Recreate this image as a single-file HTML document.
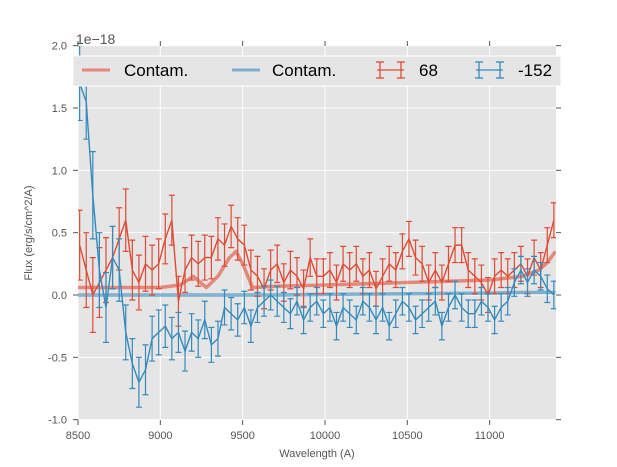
<!DOCTYPE html>
<html><head><meta charset="utf-8"><style>
body{margin:0;background:#fff;font-family:"Liberation Sans",sans-serif}
svg{display:block}
</style></head><body>
<svg id="chart" width="617" height="467">
<rect x="78" y="46" width="478" height="374" fill="#e5e5e5"/>
<g id="grid"></g><g id="axes"></g><g id="series"></g>
<text x="76" y="44" font-size="14" fill="#555">1e−18</text>
<text x="317" y="457" font-size="11" fill="#555" text-anchor="middle">Wavelength (A)</text>
<text transform="translate(32,233) rotate(-90)" font-size="11" fill="#555" text-anchor="middle">Flux (erg/s/cm^2/A)</text>
<g>
<rect x="73" y="56" width="488" height="30" fill="#e5e5e5" stroke="#fff" stroke-width="1"/>
<line x1="82" y1="70" x2="110" y2="70" stroke="#E24A33" stroke-opacity="0.6" stroke-width="3"/>
<text x="124" y="76" font-size="17">Contam.</text>
<line x1="232" y1="70" x2="260" y2="70" stroke="#348ABD" stroke-opacity="0.6" stroke-width="3"/>
<text x="272" y="76" font-size="17">Contam.</text>
<g stroke="#E24A33" stroke-width="1.3"><line x1="377" y1="70" x2="404" y2="70"/><line x1="380" y1="62" x2="380" y2="78"/><line x1="401" y1="62" x2="401" y2="78"/><line x1="376" y1="62" x2="384" y2="62"/><line x1="376" y1="78" x2="384" y2="78"/><line x1="397" y1="62" x2="405" y2="62"/><line x1="397" y1="78" x2="405" y2="78"/></g>
<text x="419" y="76" font-size="17">68</text>
<g stroke="#348ABD" stroke-width="1.3"><line x1="476" y1="70" x2="503" y2="70"/><line x1="479" y1="62" x2="479" y2="78"/><line x1="500" y1="62" x2="500" y2="78"/><line x1="475" y1="62" x2="483" y2="62"/><line x1="475" y1="78" x2="483" y2="78"/><line x1="496" y1="62" x2="504" y2="62"/><line x1="496" y1="78" x2="504" y2="78"/></g>
<text x="518" y="76" font-size="17">-152</text>
</g>
</svg>
<script>
const xTicks=[8500,9000,9500,10000,10500,11000];
const yTicks=[-1.0,-0.5,0.0,0.5,1.0,1.5,2.0];
const wlStart=8510, wlStep=40;
const red68=[0.4,0.2,0.0,0.1,0.2,0.3,0.45,0.6,0.2,0.1,0.25,0.2,0.25,0.45,0.6,-0.05,0.2,0.3,0.25,0.3,0.3,0.45,0.4,0.55,0.45,0.4,0.2,0.15,0.05,0.2,0.25,0.1,0.2,0.15,0.05,0.3,0.15,0.15,0.2,0.1,0.25,0.2,0.25,0.15,0.2,0.05,0.15,0.25,0.2,0.35,0.45,0.3,0.25,0.1,0.2,0.1,0.25,0.4,0.4,0.2,0.15,0.1,0.0,0.15,0.2,0.15,0.2,0.25,0.15,0.3,0.2,0.4,0.6];
const red68Err=[0.28,0.3,0.3,0.28,0.26,0.25,0.25,0.25,0.24,0.22,0.22,0.2,0.2,0.2,0.2,0.2,0.18,0.18,0.18,0.18,0.17,0.17,0.17,0.17,0.17,0.16,0.16,0.16,0.16,0.16,0.15,0.15,0.15,0.15,0.15,0.15,0.14,0.14,0.14,0.14,0.14,0.14,0.14,0.14,0.14,0.14,0.14,0.14,0.14,0.14,0.14,0.14,0.14,0.14,0.14,0.14,0.14,0.14,0.14,0.14,0.14,0.14,0.14,0.14,0.14,0.14,0.14,0.14,0.14,0.14,0.14,0.14,0.14];
const blue152=[1.7,1.55,0.8,0.2,-0.1,0.3,0.2,-0.3,-0.55,-0.7,-0.6,-0.35,-0.3,-0.25,-0.35,-0.3,-0.45,-0.3,-0.35,-0.2,-0.4,-0.35,-0.1,-0.15,-0.2,-0.1,-0.25,-0.1,-0.05,0.0,-0.05,-0.1,-0.15,-0.05,-0.2,-0.1,-0.05,-0.15,-0.1,-0.25,-0.1,-0.15,-0.2,-0.05,-0.1,-0.2,-0.1,-0.25,-0.15,-0.05,-0.1,-0.2,-0.15,-0.1,-0.05,-0.25,-0.1,0.0,-0.1,-0.15,-0.15,-0.05,-0.1,-0.2,-0.1,-0.05,0.1,0.2,0.1,0.2,0.15,0.05,0.0];
const blue152Err=[0.3,0.3,0.35,0.3,0.28,0.25,0.25,0.22,0.2,0.2,0.2,0.18,0.18,0.17,0.17,0.16,0.16,0.15,0.15,0.15,0.14,0.14,0.14,0.13,0.13,0.13,0.13,0.12,0.12,0.12,0.12,0.12,0.12,0.11,0.11,0.11,0.11,0.11,0.11,0.11,0.11,0.11,0.11,0.11,0.11,0.11,0.11,0.11,0.11,0.11,0.11,0.11,0.11,0.11,0.11,0.11,0.11,0.11,0.11,0.11,0.11,0.11,0.11,0.11,0.11,0.11,0.11,0.11,0.11,0.11,0.11,0.11,0.11];
const contamWl=[8500,9000,9120,9200,9280,9350,9420,9460,9500,9560,9700,10000,10500,11000,11200,11300,11350,11400];
const contamRed=[0.06,0.06,0.08,0.15,0.06,0.15,0.3,0.35,0.25,0.06,0.07,0.08,0.1,0.12,0.15,0.2,0.26,0.35];
const contamBlue=[0.0,0.0,0.0,0.0,0.0,0.0,0.0,0.0,0.0,0.0,0.0,0.005,0.01,0.015,0.02,0.02,0.02,0.02];
const X=v=>78+(v-8500)*478/2903, Y=v=>295-v*124.67;
const NS='http://www.w3.org/2000/svg';
function mk(p,t,a){const e=document.createElementNS(NS,t);for(const k in a)e.setAttribute(k,a[k]);p.appendChild(e);return e;}
const grid=document.getElementById('grid'),axes=document.getElementById('axes'),ser=document.getElementById('series');
xTicks.forEach(t=>{const x=X(t);
const g=mk(grid,'line',{x1:x,x2:x,y1:46,y2:420,stroke:'#fff','stroke-width':1});


mk(axes,'line',{x1:x,x2:x,y1:420,y2:425,stroke:'#555'});mk(axes,'line',{x1:x,x2:x,y1:46,y2:41,stroke:'#555'});
const l=mk(axes,'text',{x:x,y:439,'font-size':11,fill:'#555','text-anchor':'middle'});l.textContent=t;

});
yTicks.forEach(t=>{const y=Y(t);
const g=mk(grid,'line',{x1:78,x2:556,y1:y,y2:y,stroke:'#fff','stroke-width':1});


mk(axes,'line',{x1:73,x2:78,y1:y,y2:y,stroke:'#555'});mk(axes,'line',{x1:556,x2:561,y1:y,y2:y,stroke:'#555'});
const l=mk(axes,'text',{x:67,y:y+4,'font-size':11,fill:'#555','text-anchor':'end'});l.textContent=t.toFixed(1);

});
function contam(vals,col,name){let d='';contamWl.forEach((w,i)=>{d+=(i?'L':'M')+X(w)+','+Y(vals[i]);});
const p=mk(ser,'path',{d:d,fill:'none',stroke:col,'stroke-opacity':0.6,'stroke-width':3.5,'stroke-linejoin':'round'});

}
function errs(vals,err,col,name){const g=mk(ser,'g',{stroke:col,'stroke-width':1.2,fill:'none'});


let d='';vals.forEach((v,i)=>{const w=wlStart+wlStep*i;if(w>11403)return;const x=X(w),y=Y(v),e=err[i]*124.67;
d+=(i?'L':'M')+x+','+y;
mk(g,'path',{d:`M${x},${y-e}V${y+e}M${x-3},${y-e}h6M${x-3},${y+e}h6`});});
mk(g,'path',{d:d,'stroke-width':1.4});}
const clip=mk(document.getElementById('chart'),'clipPath',{id:'c'});mk(clip,'rect',{x:78,y:46,width:478,height:374});
ser.setAttribute('clip-path','url(#c)');
contam(contamRed,'#E24A33','contam-red-line');
contam(contamBlue,'#348ABD','contam-blue-line');
errs(red68,red68Err,'#E24A33','series-68');
errs(blue152,blue152Err,'#348ABD','series-minus-152');
</script>
</body></html>
